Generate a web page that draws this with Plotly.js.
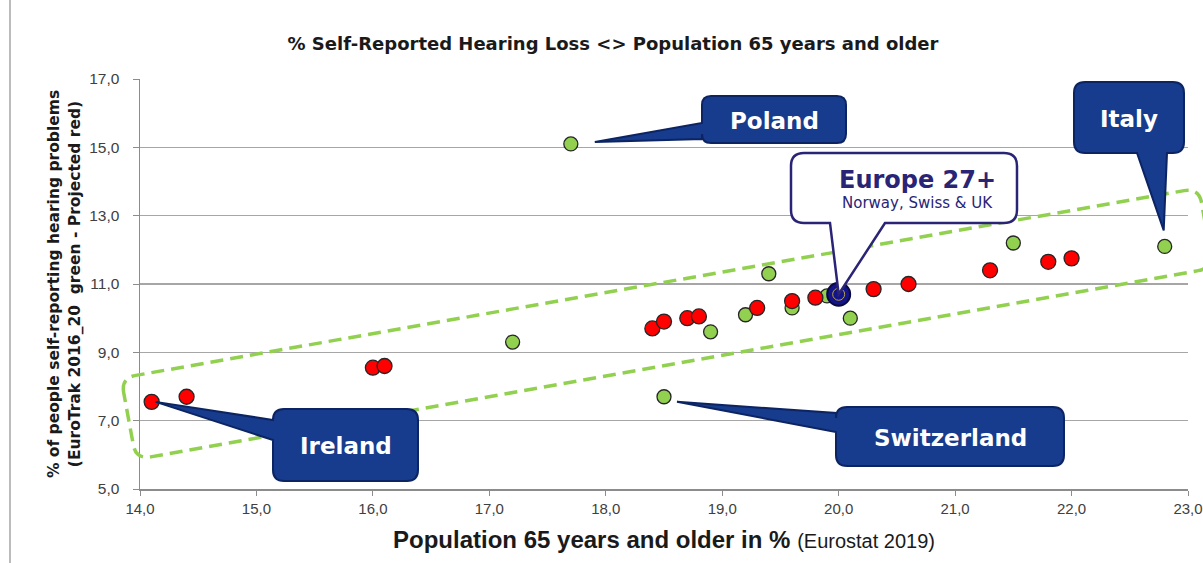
<!DOCTYPE html>
<html>
<head>
<meta charset="utf-8">
<script src="https://cdn.plot.ly/plotly-3.0.1.min.js"></script>
<style>html,body{margin:0;padding:0;background:#fff;}#chart{width:1203px;height:563px;}</style>
</head>
<body>
<div id="chart"></div>
<script>
// ---- data ----
const greenX = [17.2, 17.7, 18.5, 18.9, 19.2, 19.4, 19.6, 19.9, 20.1, 21.5, 22.8];
const greenY = [9.3, 15.1, 7.7, 9.6, 10.1, 11.3, 10.3, 10.65, 10.0, 12.2, 12.1];
const redX = [14.1, 14.4, 16.0, 16.1, 18.4, 18.5, 18.7, 18.8, 19.3, 19.6, 19.8, 20.3, 20.6, 21.3, 21.8, 22.0];
const redY = [7.55, 7.7, 8.55, 8.6, 9.7, 9.9, 10.0, 10.05, 10.3, 10.5, 10.6, 10.85, 11.0, 11.4, 11.65, 11.75];
const europeX = [20.0];
const europeY = [10.7];
const xTickVals = [14, 15, 16, 17, 18, 19, 20, 21, 22, 23];
const yTickVals = [5, 7, 9, 11, 13, 15, 17];

// ---- layout geometry ----
const W = 1203, H = 563;
const M = {l: 140, r: 15, t: 79, b: 74};
const PW = W - M.l - M.r, PH = H - M.t - M.b;
const XR = [14, 23], YR = [5, 17];
const dx = v => M.l + (v - XR[0]) / (XR[1] - XR[0]) * PW;   // data -> pixel
const dy = v => M.t + PH - (v - YR[0]) / (YR[1] - YR[0]) * PH;
const px = x => (x - M.l) / PW;                               // pixel -> paper
const py = y => (M.t + PH - y) / PH;
const pt = (x, y) => px(x).toFixed(5) + ',' + py(y).toFixed(5);

// rounded polygon path (pixel corner list)
function roundPoly(c, r) {
  let s = '';
  const n = c.length;
  for (let i = 0; i < n; i++) {
    const p = c[(i - 1 + n) % n], q = c[i], nx = c[(i + 1) % n];
    const u1x = p[0] - q[0], u1y = p[1] - q[1], l1 = Math.hypot(u1x, u1y);
    const u2x = nx[0] - q[0], u2y = nx[1] - q[1], l2 = Math.hypot(u2x, u2y);
    const a = [q[0] + r * u1x / l1, q[1] + r * u1y / l1];
    const b = [q[0] + r * u2x / l2, q[1] + r * u2y / l2];
    s += (i === 0 ? 'M' : 'L') + pt(a[0], a[1]) + ' Q' + pt(q[0], q[1]) + ' ' + pt(b[0], b[1]) + ' ';
  }
  return s + 'Z';
}

// callout path: rounded box with a wedge on left or bottom side
function callout(x0, y0, x1, y1, r, side, b1, b2, tip) {
  let s = 'M' + pt(x0 + r, y0) + ' L' + pt(x1 - r, y0) + ' Q' + pt(x1, y0) + ' ' + pt(x1, y0 + r) +
          ' L' + pt(x1, y1 - r) + ' Q' + pt(x1, y1) + ' ' + pt(x1 - r, y1);
  if (side === 'bottom') s += ' L' + pt(b2, y1) + ' L' + pt(tip[0], tip[1]) + ' L' + pt(b1, y1);
  s += ' L' + pt(x0 + r, y1) + ' Q' + pt(x0, y1) + ' ' + pt(x0, y1 - r);
  if (side === 'left') s += ' L' + pt(x0, b2) + ' L' + pt(tip[0], tip[1]) + ' L' + pt(x0, b1);
  s += ' L' + pt(x0, y0 + r) + ' Q' + pt(x0, y0) + ' ' + pt(x0 + r, y0) + ' Z';
  return s;
}

const BLUE = '#173b8d', BLUE_EDGE = '#0c2462', NAVY = '#2a2476';
const callouts = [
  {label: 'Poland', box: [702, 96, 846, 143], r: 9, side: 'left', base: [123, 139], tip: [dx(greenX[1]) + 24, dy(greenY[1]) - 2]},
  {label: 'Italy', box: [1074, 82, 1184, 153], r: 11, side: 'bottom', base: [1137, 1167], tip: [dx(greenX[10]) - 1, dy(greenY[10]) - 16]},
  {label: 'Ireland', box: [273, 409, 418, 481], r: 11, side: 'left', base: [420, 440], tip: [dx(redX[0]) + 4, dy(redY[0])]},
  {label: 'Switzerland', box: [836, 407, 1064, 466], r: 11, side: 'left', base: [413, 432], tip: [dx(greenX[2]) + 13, dy(greenY[2]) + 5]}
];

const shapes = [];
const annotations = [];

// dashed green band
shapes.push({
  type: 'path', xref: 'paper', yref: 'paper', layer: 'above',
  path: roundPoly([[121, 378], [1199, 188], [1213, 268], [136, 459.5]], 15),
  line: {color: '#92d050', width: 3.5, dash: '13px,7px'}, fillcolor: 'rgba(0,0,0,0)'
});

callouts.forEach(c => {
  const [x0, y0, x1, y1] = c.box;
  shapes.push({
    type: 'path', xref: 'paper', yref: 'paper', layer: 'above',
    path: callout(x0, y0, x1, y1, c.r, c.side, c.base[0], c.base[1], c.tip),
    fillcolor: BLUE, line: {color: BLUE_EDGE, width: 2}
  });
  annotations.push({
    xref: 'paper', yref: 'paper', x: px((x0 + x1) / 2), y: py((y0 + y1) / 2 + 1),
    xanchor: 'center', yanchor: 'middle', showarrow: false,
    text: '<b>' + c.label + '</b>', font: {family: 'DejaVu Sans', size: 23, color: '#ffffff'}
  });
});

// Europe callout (white)
shapes.push({
  type: 'path', xref: 'paper', yref: 'paper', layer: 'above',
  path: callout(791, 153, 1017, 223, 13, 'bottom', 830, 885, [dx(europeX[0]), dy(europeY[0])]),
  fillcolor: '#ffffff', line: {color: NAVY, width: 2.5}
});
annotations.push({
  xref: 'paper', yref: 'paper', x: px(917), y: py(180), xanchor: 'center', yanchor: 'middle', showarrow: false,
  text: '<b>Europe 27+</b>', font: {family: 'DejaVu Sans', size: 24, color: NAVY}
});
annotations.push({
  xref: 'paper', yref: 'paper', x: px(917), y: py(203), xanchor: 'center', yanchor: 'middle', showarrow: false,
  text: 'Norway, Swiss &amp; UK', font: {family: 'DejaVu Sans', size: 15, color: NAVY}
});

// outer frame line on the left
shapes.push({type: 'line', xref: 'paper', yref: 'paper', x0: px(10), x1: px(10), y0: py(0), y1: py(H),
  line: {color: '#a6a6a6', width: 1.5}, layer: 'below'});

const traces = [
  {type: 'scatter', mode: 'markers', name: 'EuroTrak 2016_20', x: greenX, y: greenY,
   marker: {color: '#92d050', size: 14, line: {color: '#262626', width: 1.3}}, cliponaxis: false},
  {type: 'scatter', mode: 'markers', name: 'Projected', x: redX, y: redY,
   marker: {color: '#ff0000', size: 15, line: {color: '#262626', width: 1.3}}, cliponaxis: false},
  {type: 'scatter', mode: 'markers', name: 'Europe 27+', x: europeX, y: europeY,
   marker: {color: '#14148a', size: 23, line: {color: '#0a0a40', width: 2}}, cliponaxis: false},
  {type: 'scatter', mode: 'markers', name: 'Europe stars', x: europeX, y: europeY, hoverinfo: 'skip',
   marker: {symbol: 'circle-open', color: '#b8a23a', size: 12, line: {color: '#b8a23a', width: 1}}, cliponaxis: false}
];

const NARROW = 'Liberation Sans Narrow, Arial Narrow, Liberation Sans, sans-serif';
const layout = {
  width: W, height: H, margin: M,
  paper_bgcolor: '#ffffff', plot_bgcolor: '#ffffff',
  showlegend: false, separators: ',.',
  title: {text: '<b>% Self-Reported Hearing Loss &lt;&gt; Population 65 years and older</b>',
          font: {family: 'DejaVu Sans', size: 18, color: '#1a1a1a'},
          xref: 'container', yref: 'container', x: 613 / W, y: 1 - 44 / H, xanchor: 'center', yanchor: 'middle'},
  xaxis: {range: XR, tickvals: xTickVals, tickformat: '.1f', showgrid: false, zeroline: false,
          showline: true, linecolor: '#8c8c8c', linewidth: 1.5, ticks: 'outside', ticklen: 5, tickcolor: '#8c8c8c',
          tickfont: {family: NARROW, size: 15, color: '#404040'},
          title: {text: '<b>Population 65 years and older in %</b> <span style="font-size:20px;font-weight:normal">(Eurostat 2019)</span>',
                  font: {family: NARROW, size: 24, color: '#1a1a1a'},
                  standoff: 15}},
  yaxis: {range: YR, tickvals: yTickVals, tickformat: '.1f', showgrid: true, gridcolor: '#a6a6a6', gridwidth: 1.5, zeroline: false,
          showline: true, linecolor: '#8c8c8c', linewidth: 1.5, ticks: 'outside', ticklen: 6, tickcolor: '#8c8c8c',
          ticklabelstandoff: 10,
          tickfont: {family: 'Liberation Sans', size: 15.5, color: '#404040'},
          title: {text: '<b>% of people self-reporting hearing problems<br>(EuroTrak 2016_20  green - Projected red)</b>',
                  font: {family: 'DejaVu Sans', size: 15.5, color: '#1a1a1a'}, standoff: 5}},
  shapes: shapes, annotations: annotations
};

Plotly.newPlot('chart', traces, layout, {staticPlot: true, displayModeBar: false});
</script>
</body>
</html>
